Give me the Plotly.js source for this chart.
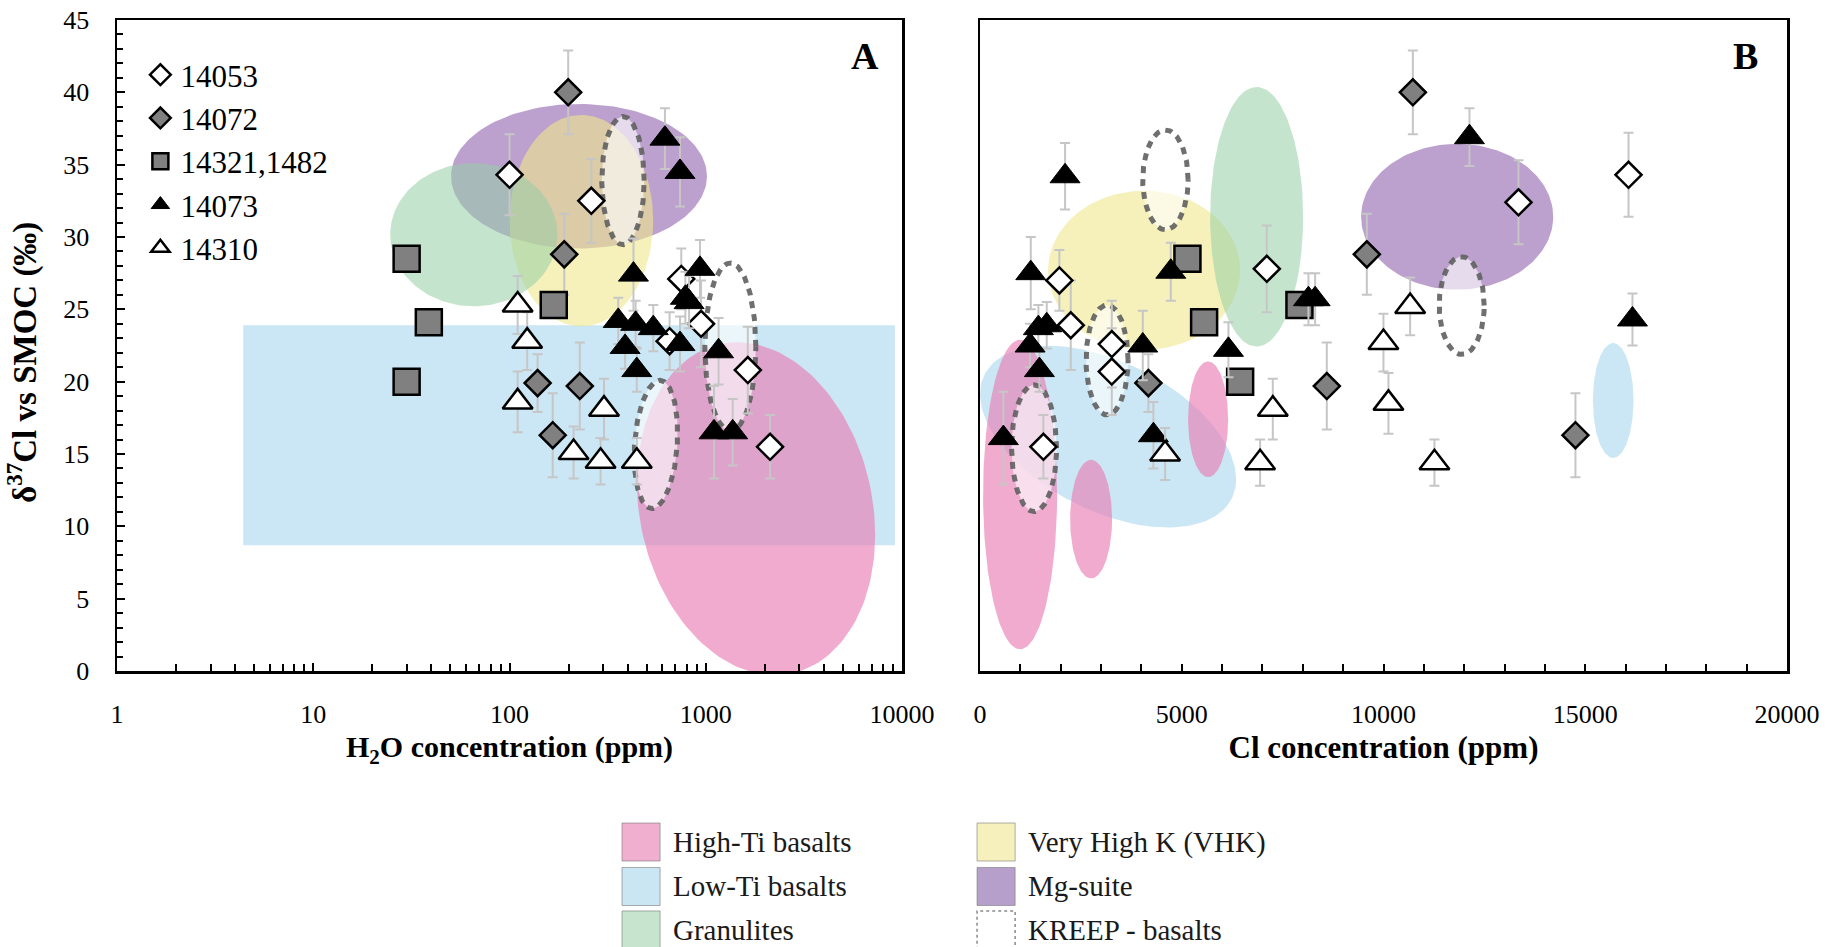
<!DOCTYPE html>
<html><head><meta charset="utf-8">
<script src="https://cdn.plot.ly/plotly-3.0.1.min.js"></script>
<style>html,body{margin:0;padding:0;background:#fff}#chart{width:1829px;height:947px}</style>
</head><body><div id="chart"></div>
<script>
// ---------- DATA ----------
// Panel A : H2O concentration (ppm) vs d37Cl (permil)
const sampleNames = ['14053', '14072', '14321,1482', '14073', '14310'];

const a14053_h2o = [100, 261, 654, 750, 946, 1637, 2125];
const a14053_d37 = [34.3, 32.5, 22.8, 27.1, 24.0, 20.8, 15.5];
const a14053_err = [2.8, 2.9, 2.0, 2.1, 3.0, 3.0, 2.2];

const a14072_h2o = [199, 190, 139, 228, 166];
const a14072_d37 = [40.0, 28.8, 19.9, 19.7, 16.3];
const a14072_err = [2.9, 2.8, 2.0, 3.0, 2.9];

const a14321_h2o = [29.9, 38.8, 29.9, 168];
const a14321_d37 = [28.5, 24.1, 20.0, 25.3];
const a14321_err = [0.6, 0.6, 0.6, 0.6];

const a14073_h2o = [619, 739, 428, 934, 787, 822, 358, 439, 540, 388, 739, 1162, 445, 1101, 1371];
const a14073_d37 = [36.8, 34.5, 27.4, 27.8, 25.8, 25.5, 24.2, 24.0, 23.7, 22.4, 22.6, 22.1, 20.8, 16.5, 16.5];
const a14073_err = [2.1, 2.4, 2.5, 2.0, 1.8, 1.8, 1.6, 1.6, 1.6, 1.5, 1.9, 2.3, 1.5, 3.2, 2.3];

const a14310_h2o = [110, 123, 110, 303, 212, 291, 445];
const a14310_d37 = [25.3, 22.8, 18.6, 18.1, 15.1, 14.5, 14.5];
const a14310_err = [2.0, 2.0, 2.1, 2.1, 1.8, 1.6, 1.6];

// Panel B : Cl concentration (ppm) vs d37Cl (permil)
const b14053_cl = [16072, 13345, 7107, 1966, 2248, 3265, 3265, 1570];
const b14053_d37 = [34.3, 32.4, 27.8, 27.0, 23.9, 22.6, 20.7, 15.5];
const b14053_err = [2.9, 2.9, 3.0, 2.1, 3.1, 3.0, 3.0, 2.2];

const b14072_cl = [10727, 9586, 4172, 8594, 14757];
const b14072_d37 = [40.0, 28.8, 19.9, 19.7, 16.3];
const b14072_err = [2.9, 2.8, 2.0, 3.0, 2.9];

const b14321_cl = [5140, 5553, 7916, 6446];
const b14321_d37 = [28.5, 24.1, 25.3, 20.0];
const b14321_err = [0.6, 0.6, 0.6, 0.6];

const b14073_cl = [2107, 12130, 16170, 1257, 4727, 8139, 8305, 1446, 1653, 1240, 1471, 4033, 6156, 578, 4297];
const b14073_d37 = [34.2, 36.9, 24.3, 27.5, 27.6, 25.7, 25.7, 23.7, 23.9, 22.5, 20.8, 22.5, 22.2, 16.1, 16.3];
const b14073_err = [2.3, 2.0, 1.8, 2.5, 2.0, 1.8, 1.8, 1.6, 1.6, 1.5, 1.5, 2.4, 1.9, 3.2, 2.3];

const b14310_cl = [10660, 9998, 10122, 7256, 6941, 4586, 11262];
const b14310_d37 = [25.2, 22.7, 18.5, 18.1, 14.4, 15.0, 14.4];
const b14310_err = [2.0, 2.0, 2.1, 2.1, 1.6, 1.8, 1.6];

// Compositional fields (ellipses: centre and two axis vectors; panel A x in log10 ppm)
const regA_type = ['Mg-suite', 'Very High K (VHK)', 'Granulites', 'High-Ti basalts', 'KREEP - basalts', 'KREEP - basalts', 'KREEP - basalts'];
const regA_cx = [2.354, 2.366, 1.818, 3.256, 2.578, 3.125, 2.746];
const regA_cy = [34.2, 31.13, 30.16, 11.22, 33.9, 22.4, 15.66];
const regA_ax = [0.652, 0.366, 0.426, 0.607, 0.108, 0.13, 0.109];
const regA_bx = [0, 0, 0, 0, 0, 0, 0.02];
const regA_ay = [0, 0, 0, -1.80, 0, 0, 0];
const regA_by = [5.0, 7.31, 4.95, 11.36, 4.43, 5.8, 4.43];
const lowTiA_x = [4.4, 9200];   // Low-Ti basalt field, panel A (ppm)
const lowTiA_y = [8.7, 23.9];

const regB_type = ['Low-Ti basalts', 'Low-Ti basalts', 'Mg-suite', 'Very High K (VHK)', 'Granulites',
  'High-Ti basalts', 'High-Ti basalts', 'High-Ti basalts',
  'KREEP - basalts', 'KREEP - basalts', 'KREEP - basalts', 'KREEP - basalts'];
const regB_cx = [3173, 15692, 11825, 4066, 6855, 992, 2752, 5652, 4594, 11937, 3148, 1339];
const regB_cy = [16.2, 18.7, 31.4, 27.7, 31.4, 12.2, 10.5, 17.4, 33.95, 25.26, 21.5, 15.4];
const regB_ax = [3173, 503, 2380, 2380, 1153, 917, 520, 496, 563, 558, 521, 558];
const regB_bx = [0, 0, 0, 0, 0, 0, 0, 0, 0, 0, 0, 0];
const regB_ay = [-2.94, 0, 0, 0, 0, 0, 0, 0, 0, 0, 0, 0];
const regB_by = [5.55, 3.97, 5.04, 5.5, 8.97, 10.7, 4.1, 4.0, 3.45, 3.38, 3.8, 4.38];

// Legend of fields (two columns)
const fieldLegend = ['High-Ti basalts', 'Low-Ti basalts', 'Granulites', 'Very High K (VHK)', 'Mg-suite', 'KREEP - basalts'];

// ---------- STYLE ----------
const FONT = 'Liberation Serif, Times New Roman, Times, serif';
const fieldFill = {
  'High-Ti basalts': 'rgba(232,128,182,0.66)',
  'Low-Ti basalts': 'rgba(160,210,235,0.55)',
  'Granulites': 'rgba(150,205,165,0.55)',
  'Very High K (VHK)': 'rgba(240,232,140,0.6)',
  'Mg-suite': 'rgba(160,120,185,0.7)',
  'KREEP - basalts': 'rgba(255,255,255,0.62)'
};
const fieldSolid = {
  'High-Ti basalts': '#f0afcf',
  'Low-Ti basalts': '#cbe6f3',
  'Granulites': '#c6e4ce',
  'Very High K (VHK)': '#f6f1bc',
  'Mg-suite': '#b79fcc',
  'KREEP - basalts': '#ffffff'
};
const kreepLine = {color: 'rgba(95,95,95,0.9)', width: 5, dash: '7px,6px'};

function ellipse(cx, cy, ax, bx, ay, by, logx) {
  const xs = [], ys = [];
  const n = 160;
  for (let i = 0; i <= n; i++) {
    const t = 2 * Math.PI * i / n;
    const x = cx + ax * Math.cos(t) + bx * Math.sin(t);
    const y = cy + ay * Math.cos(t) + by * Math.sin(t);
    xs.push(logx ? Math.pow(10, x) : x);
    ys.push(y);
  }
  return {xs, ys};
}

function fieldTrace(type, xs, ys, xa, ya) {
  const isK = type === 'KREEP - basalts';
  return {
    type: 'scatter', mode: 'lines', x: xs, y: ys, xaxis: xa, yaxis: ya,
    fill: 'toself', fillcolor: fieldFill[type],
    line: isK ? kreepLine : {width: 0, color: 'rgba(0,0,0,0)'},
    showlegend: false, hoverinfo: 'skip'
  };
}

const traces = [];
// Panel A fields
traces.push(fieldTrace('Low-Ti basalts',
  [lowTiA_x[0], lowTiA_x[1], lowTiA_x[1], lowTiA_x[0], lowTiA_x[0]],
  [lowTiA_y[0], lowTiA_y[0], lowTiA_y[1], lowTiA_y[1], lowTiA_y[0]], 'x', 'y'));
regA_type.forEach((t, i) => {
  const e = ellipse(regA_cx[i], regA_cy[i], regA_ax[i], regA_bx[i], regA_ay[i], regA_by[i], true);
  traces.push(fieldTrace(t, e.xs, e.ys, 'x', 'y'));
});
// Panel B fields
regB_type.forEach((t, i) => {
  const e = ellipse(regB_cx[i], regB_cy[i], regB_ax[i], regB_bx[i], regB_ay[i], regB_by[i], false);
  traces.push(fieldTrace(t, e.xs, e.ys, 'x2', 'y2'));
});

const markerStyles = [
  {symbol: 'diamond', color: '#ffffff', size: 20, line: {color: '#000', width: 2.5}},
  {symbol: 'diamond', color: '#808080', size: 20, line: {color: '#000', width: 2.5}},
  {symbol: 'square', color: '#808080', size: 26, line: {color: '#000', width: 2.5}},
  {symbol: 'triangle-up', color: '#000000', size: 26, line: {color: '#000', width: 1}},
  {symbol: 'triangle-up', color: '#ffffff', size: 26, line: {color: '#000', width: 2.5}}
];
const seriesA = [[a14053_h2o, a14053_d37, a14053_err], [a14072_h2o, a14072_d37, a14072_err],
  [a14321_h2o, a14321_d37, a14321_err], [a14073_h2o, a14073_d37, a14073_err], [a14310_h2o, a14310_d37, a14310_err]];
const seriesB = [[b14053_cl, b14053_d37, b14053_err], [b14072_cl, b14072_d37, b14072_err],
  [b14321_cl, b14321_d37, b14321_err], [b14073_cl, b14073_d37, b14073_err], [b14310_cl, b14310_d37, b14310_err]];

function pointTrace(s, i, xa, ya, leg) {
  return {
    type: 'scatter', mode: 'markers', name: sampleNames[i], x: s[0], y: s[1],
    xaxis: xa, yaxis: ya, showlegend: leg, legendgroup: 'g' + i,
    marker: markerStyles[i], cliponaxis: false,
    error_y: {type: 'data', array: s[2], visible: true, color: '#c6c6c6', thickness: 2, width: 5},
    hoverinfo: 'skip'
  };
}
seriesA.forEach((s, i) => traces.push(pointTrace(s, i, 'x', 'y', true)));
seriesB.forEach((s, i) => traces.push(pointTrace(s, i, 'x2', 'y2', false)));

// log axis: labelled decades + minor ticks at 2..9
const decadeVals = [1, 10, 100, 1000, 10000];
const decadeText = ['1', '10', '100', '1000', '10000'];
const logMinorVals = [];
decadeVals.slice(0, 4).forEach(d => { for (let k = 2; k <= 9; k++) logMinorVals.push(k * d); });

// ---------- bottom legend (fields) ----------
const shapes = [], annotations = [];
const legX = [0.3024, 0.515];     // box left (paper)
const legRowsY = [-0.2627, -0.331, -0.3978];
const boxW = 0.0228, boxH = 0.0292;
fieldLegend.forEach((name, i) => {
  const col = Math.floor(i / 3), row = i % 3;
  const x0 = legX[col], yc = legRowsY[row];
  const isK = name === 'KREEP - basalts';
  shapes.push({type: 'rect', xref: 'paper', yref: 'paper', x0: x0, x1: x0 + boxW, y0: yc - boxH, y1: yc + boxH,
    fillcolor: fieldSolid[name],
    line: isK ? {color: '#8a8a8a', width: 1.5, dash: 'dot'} : {color: 'rgba(120,120,120,0.6)', width: 1}});
  annotations.push({xref: 'paper', yref: 'paper', x: x0 + boxW + 0.0068, y: yc, xanchor: 'left', yanchor: 'middle',
    text: name, showarrow: false, font: {family: FONT, size: 29, color: '#1a1a1a'}});
});
annotations.push({xref: 'paper', yref: 'paper', x: 0.448, y: 0.945, xanchor: 'center', yanchor: 'middle',
  text: '<b>A</b>', showarrow: false, font: {family: FONT, size: 38, color: '#000'}});
annotations.push({xref: 'paper', yref: 'paper', x: 0.9754, y: 0.945, xanchor: 'center', yanchor: 'middle',
  text: '<b>B</b>', showarrow: false, font: {family: FONT, size: 38, color: '#000'}});
// y-axis title (placed as in the reference, slightly below the axis centre)
annotations.push({xref: 'paper', yref: 'paper', x: -0.0563, y: 0.4747, xanchor: 'center', yanchor: 'middle',
  textangle: -90, text: '<b>δ<sup>37</sup>Cl vs SMOC (‰)</b>', showarrow: false,
  font: {family: FONT, size: 33, color: '#000'}});

const axisCommon = {showline: true, linecolor: '#000', linewidth: 2.5, mirror: true, showgrid: false, zeroline: false,
  tickcolor: '#000', tickfont: {family: FONT, size: 26, color: '#000'}};

const layout = {
  width: 1829, height: 947,
  margin: {l: 117, r: 42, t: 20, b: 276},
  paper_bgcolor: '#ffffff', plot_bgcolor: 'rgba(0,0,0,0)',
  font: {family: FONT, size: 26, color: '#000'},
  showlegend: true,
  legend: {x: 0.014, y: 0.957, xanchor: 'left', yanchor: 'top', bgcolor: 'rgba(0,0,0,0)',
    font: {family: FONT, size: 31, color: '#000'}, tracegroupgap: 0, itemsizing: 'trace'},
  xaxis: Object.assign({}, axisCommon, {
    type: 'log', domain: [0, 0.4701], range: [0, 4], anchor: 'y',
    tickmode: 'array', tickvals: decadeVals, ticktext: decadeText,
    ticks: 'inside', ticklen: 8, tickwidth: 2, ticklabelstandoff: 18,
    minor: {tickmode: 'array', tickvals: logMinorVals, ticks: 'inside', ticklen: 7, tickwidth: 2, tickcolor: '#000', showgrid: false},
    title: {text: '<b>H<sub>2</sub>O concentration (ppm)</b>', font: {family: FONT, size: 30, color: '#000'}, standoff: 9}
  }),
  yaxis: Object.assign({}, axisCommon, {
    domain: [0, 1], range: [0, 45], anchor: 'x', tick0: 0, dtick: 5,
    ticks: 'inside', ticklen: 8, tickwidth: 2,
    minor: {dtick: 1, ticks: 'inside', ticklen: 6, tickwidth: 2, tickcolor: '#000', showgrid: false},
    ticklabelstandoff: 20
  }),
  xaxis2: Object.assign({}, axisCommon, {
    domain: [0.5168, 1], range: [0, 20000], anchor: 'y2', tick0: 0, dtick: 5000, tickformat: 'd',
    ticks: 'inside', ticklen: 7, tickwidth: 2,
    minor: {dtick: 1000, ticks: 'inside', ticklen: 7, tickwidth: 2, tickcolor: '#000', showgrid: false},
    ticklabelstandoff: 18,
    title: {text: '<b>Cl concentration (ppm)</b>', font: {family: FONT, size: 31, color: '#000'}, standoff: 9}
  }),
  yaxis2: Object.assign({}, axisCommon, {
    domain: [0, 1], range: [0, 45], anchor: 'x2', showticklabels: false, ticks: ''
  }),
  shapes: shapes,
  annotations: annotations,
  hovermode: false
};

Plotly.newPlot('chart', traces, layout, {staticPlot: true, displayModeBar: false});
</script></body></html>
